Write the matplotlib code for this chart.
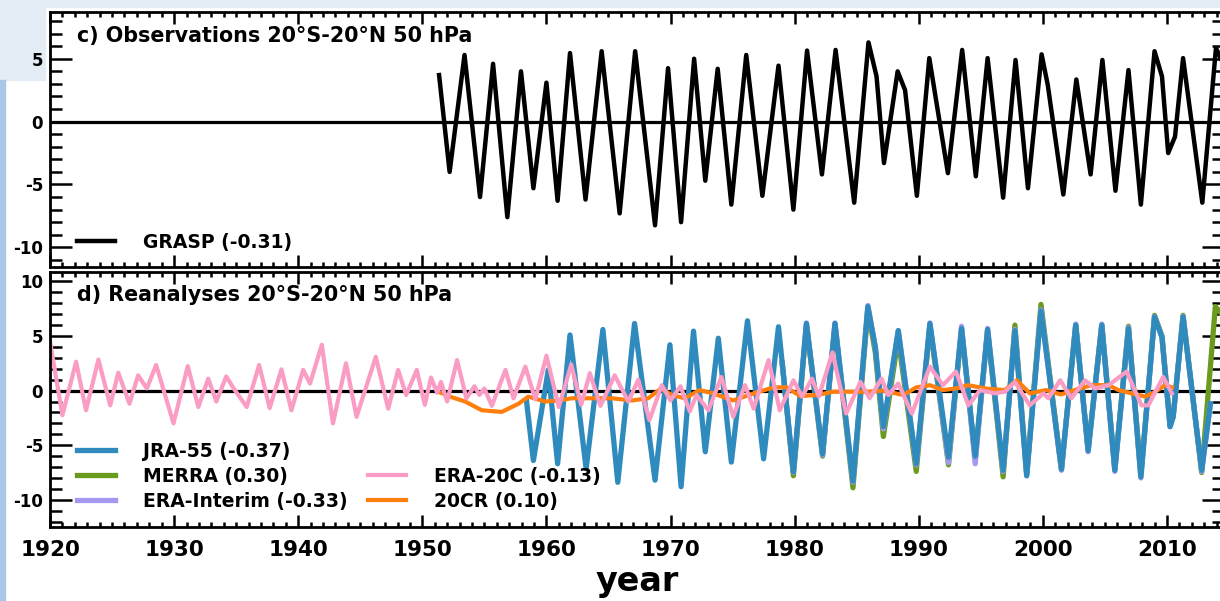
#!/usr/bin/env python3
"""
QBO 50 hPa 纬向风距平：观测 (GRASP) 与再分析资料对比图
"""

import matplotlib
matplotlib.use('Agg')
import matplotlib.pyplot as plt
from matplotlib.patches import Rectangle
from matplotlib.ticker import MultipleLocator

# ---------- 数据（从原图读取的极值点） ----------
GRASP_YEARS = [1951.35, 1952.2, 1953.4, 1954.65, 1955.7, 1956.85, 1957.95, 1958.95, 1960.0, 1960.9,
               1961.9, 1963.15, 1964.45, 1965.9, 1967.15, 1968.75, 1969.8, 1970.85, 1971.9, 1972.8,
               1973.8, 1974.9, 1976.1, 1977.4, 1978.7, 1979.9, 1981.0, 1982.2, 1983.3, 1984.8,
               1985.95, 1986.6, 1987.2, 1988.3, 1988.9, 1989.85, 1990.85, 1992.35, 1993.5, 1994.6,
               1995.55, 1996.8, 1997.8, 1998.8, 1999.9, 2000.4, 2001.65, 2002.7, 2003.85, 2004.8,
               2005.85, 2006.9, 2007.9, 2009.0, 2009.6, 2010.1, 2010.65, 2011.3, 2012.85, 2013.95,
               2014.6]
GRASP_VALS = [3.7, -4.0, 5.3, -6.0, 4.6, -7.6, 4.0, -5.3, 3.1, -6.3,
              5.45, -6.2, 5.6, -7.3, 5.6, -8.25, 4.25, -8.0, 5.0, -4.7,
              4.2, -6.6, 5.3, -5.9, 4.45, -7.0, 5.65, -4.2, 5.7, -6.45,
              6.3, 3.6, -3.3, 4.0, 2.5, -5.9, 5.05, -4.1, 5.7, -4.35,
              5.05, -6.05, 4.9, -5.3, 5.35, 2.9, -5.8, 3.35, -4.2, 4.9,
              -5.5, 4.1, -6.6, 5.6, 3.6, -2.5, -1.2, 5.05, -6.45, 5.85,
              4.5]

JRA_YEARS = [1958.4, 1958.95, 1960.15, 1960.9, 1961.9, 1963.2, 1964.55, 1965.75, 1967.1, 1968.75,
             1969.95, 1970.85, 1971.85, 1972.8, 1973.85, 1974.9, 1976.2, 1977.5, 1978.7, 1979.9,
             1980.95, 1982.25, 1983.25, 1984.7, 1985.9, 1986.5, 1987.15, 1988.35, 1989.8, 1990.9,
             1992.4, 1993.45, 1994.55, 1995.55, 1996.8, 1997.75, 1998.7, 1999.85, 2001.5, 2002.65,
             2003.65, 2004.75, 2005.8, 2006.9, 2007.9, 2009.0, 2009.6, 2010.25, 2010.5, 2011.3,
             2012.8, 2013.5]
JRA_VALS = [-1.0, -6.4, 1.9, -6.7, 5.1, -7.15, 5.6, -8.4, 6.15, -8.2,
            4.2, -8.8, 5.45, -5.6, 4.8, -6.55, 6.4, -6.25, 5.85, -7.45,
            6.15, -5.8, 6.15, -8.3, 7.7, 4.0, -3.3, 5.5, -6.7, 6.15,
            -6.1, 5.7, -6.0, 5.6, -7.3, 5.5, -7.8, 7.3, -7.2, 6.0,
            -5.5, 6.0, -7.3, 5.7, -7.9, 6.75, 4.9, -3.3, -2.4, 6.75,
            -7.3, -1.2]

MERRA_YEARS = [1979.0, 1979.9, 1980.95, 1982.25, 1983.25, 1984.7, 1985.9, 1986.5, 1987.15, 1988.35,
               1989.8, 1990.9, 1992.4, 1993.45, 1994.55, 1995.55, 1996.8, 1997.75, 1998.7, 1999.85,
               2001.5, 2002.65, 2003.65, 2004.75, 2005.8, 2006.9, 2007.9, 2009.0, 2009.6, 2010.25,
               2010.5, 2011.3, 2012.8, 2013.9, 2014.6]
MERRA_VALS = [2.5, -7.8, 6.0, -6.0, 6.0, -8.9, 7.4, 3.5, -4.2, 4.8,
              -7.4, 6.0, -6.8, 5.6, -6.3, 5.5, -7.9, 6.0, -7.6, 7.9,
              -7.2, 6.0, -5.4, 6.0, -7.2, 5.9, -7.7, 6.9, 5.0, -3.0,
              -2.4, 6.9, -7.5, 7.7, 6.8]

ERAI_YEARS = [1979.0, 1979.9, 1980.95, 1982.25, 1983.25, 1984.7, 1985.9, 1986.5, 1987.15, 1988.35,
              1989.8, 1990.9, 1992.4, 1993.45, 1994.55, 1995.55, 1996.8, 1997.75, 1998.7, 1999.85,
              2001.5, 2002.65, 2003.65, 2004.75, 2005.8, 2006.9, 2007.9, 2009.0, 2009.6, 2010.25,
              2010.5, 2011.3, 2012.8, 2013.5]
ERAI_VALS = [2.5, -7.5, 6.2, -5.9, 6.2, -8.4, 7.8, 4.0, -3.5, 5.5,
             -6.8, 6.2, -6.6, 5.9, -6.7, 5.7, -7.4, 5.6, -7.8, 7.4,
             -7.3, 6.1, -5.6, 6.1, -7.4, 5.8, -8.0, 6.8, 4.9, -3.3,
             -2.4, 6.8, -7.4, -1.2]

ERA20C_YEARS = [1920.0, 1921.0, 1922.1, 1922.9, 1923.9, 1924.85, 1925.5, 1926.4, 1927.1, 1927.8,
                1928.55, 1929.95, 1931.1, 1931.95, 1932.75, 1933.4, 1934.2, 1934.8, 1935.85, 1936.85,
                1937.7, 1938.65, 1939.45, 1940.4, 1940.95, 1941.9, 1942.8, 1943.85, 1944.7, 1946.25,
                1947.25, 1948.05, 1948.7, 1949.55, 1950.2, 1950.7, 1951.2, 1951.5, 1952.0, 1952.8,
                1953.55, 1954.2, 1954.6, 1955.0, 1955.6, 1956.7, 1957.35, 1958.3, 1959.1, 1960.0,
                1961.0, 1962.0, 1962.8, 1963.5, 1964.35, 1965.5, 1966.6, 1967.4, 1968.3, 1969.3,
                1970.0, 1970.8, 1971.55, 1972.1, 1973.05, 1974.1, 1975.05, 1976.0, 1976.7, 1977.9,
                1978.8, 1979.9, 1980.6, 1981.4, 1981.95, 1983.05, 1984.15, 1985.3, 1986.05, 1987.0,
                1987.55, 1988.35, 1989.45, 1990.9, 1991.95, 1993.0, 1994.0, 1994.95, 1996.15, 1996.95,
                1997.75, 1998.95, 2000.05, 2000.45, 2001.4, 2002.3, 2003.4, 2004.2, 2005.3, 2006.75,
                2007.95, 2008.5, 2009.7, 2010.4]
ERA20C_VALS = [4.5, -2.25, 2.65, -1.8, 2.85, -1.35, 1.65, -1.2, 1.4, 0.2,
               2.35, -3.0, 2.25, -1.5, 1.1, -1.0, 1.3, 0.2, -1.5, 2.35,
               -1.6, 1.95, -1.8, 1.9, 0.65, 4.2, -3.0, 2.5, -2.4, 3.1,
               -1.65, 1.9, -0.4, 1.9, -1.3, 1.2, -0.2, 0.8, -1.0, 2.8,
               -0.7, 0.4, -0.4, 0.2, -1.4, 1.9, -0.7, 2.2, -0.8, 3.2,
               -1.5, 2.4, -1.3, 1.6, -1.4, 1.4, -1.0, 1.0, -2.7, 0.5,
               -0.9, 0.4, -1.9, -0.4, -1.8, 1.25, -2.4, 0.5, -1.65, 2.8,
               -1.8, 0.95, -0.55, 1.1, -0.55, 3.5, -2.1, 0.8, -0.7, 1.1,
               -0.4, 0.65, -2.1, 2.2, 0.5, 1.75, -1.35, 0.05, -0.25, -0.1,
               0.8, -1.35, -0.25, -0.7, 0.95, -0.7, 0.95, 0.2, 0.5, 1.75,
               -1.35, -1.35, 1.25, -0.25]

CR20_YEARS = [1951.3, 1952.1, 1953.45, 1954.8, 1956.4, 1957.75, 1958.55, 1959.9, 1960.95, 1962.05,
              1963.65, 1965.25, 1966.9, 1968.2, 1969.25, 1970.1, 1971.15, 1972.35, 1973.4, 1975.05,
              1976.7, 1978.3, 1979.35, 1980.45, 1981.8, 1983.1, 1984.45, 1985.8, 1987.1, 1988.75,
              1989.8, 1990.9, 1991.95, 1993.0, 1994.0, 1995.35, 1996.95, 1997.9, 1998.95, 2000.25,
              2001.45, 2002.55, 2003.9, 2005.3, 2006.1, 2007.15, 2008.25, 2009.05, 2009.85, 2010.4]
CR20_VALS = [-0.1, -0.5, -1.0, -1.8, -1.95, -1.2, -0.55, -1.0, -0.9, -0.7,
             -0.7, -0.7, -0.9, -0.7, 0.2, -0.4, -0.7, 0.05, -0.25, -0.9,
             -0.25, 0.3, 0.3, -0.5, -0.4, -0.1, -0.1, -0.1, 0.0, -0.4,
             0.3, 0.5, 0.05, 0.2, 0.5, 0.2, 0.05, 0.95, -0.25, 0.05,
             -0.35, 0.05, 0.5, 0.5, 0.05, -0.25, -0.55, -0.1, 0.5, 0.3]

X_MAJOR_TICKS = [1920, 1930, 1940, 1950, 1960, 1970, 1980, 1990, 2000, 2010]
XLIM = (1920, 2014.6)

# 颜色
C_JRA = '#2f8bbd'
C_MERRA = '#6a9a1e'
C_ERAI = '#a39af0'
C_ERA20C = '#fa9cc3'
C_20CR = '#ff7f0e'

plt.rcParams['font.family'] = ['DejaVu Sans']
plt.rcParams['font.weight'] = 'bold'
plt.rcParams['axes.unicode_minus'] = False


def style_axis(ax, ylim):
    """统一设置坐标轴、刻度样式"""
    ax.set_xlim(*XLIM)
    ax.set_ylim(*ylim)
    ax.set_xticks(X_MAJOR_TICKS)
    ax.xaxis.set_minor_locator(MultipleLocator(1))
    ax.yaxis.set_major_locator(MultipleLocator(5))
    ax.yaxis.set_minor_locator(MultipleLocator(1))
    ax.tick_params(axis='both', which='both', direction='in', top=True, right=True, width=1.8)
    ax.tick_params(axis='x', which='major', length=8.5)
    ax.tick_params(axis='x', which='minor', length=3.8)
    ax.tick_params(axis='y', which='major', length=16, labelsize=12, pad=5)
    ax.tick_params(axis='y', which='minor', length=8.5)
    for sp in ax.spines.values():
        sp.set_linewidth(2.0)
    ax.axhline(0, color='black', linewidth=2.3, zorder=1)


fig = plt.figure(figsize=(12.2, 6.01), dpi=100)

# 背景条（原图截图边缘）
fig.patches.append(Rectangle((0, 0.988), 1, 0.012, transform=fig.transFigure,
                             color='#e4ecf5', zorder=-5))
fig.patches.append(Rectangle((0, 0.867), 0.037, 0.121, transform=fig.transFigure,
                             color='#e4ecf5', zorder=-5))
fig.patches.append(Rectangle((0, 0), 0.004, 0.867, transform=fig.transFigure,
                             color='#a9c7e6', zorder=-5))

ax1 = fig.add_axes([0.041, 0.555, 0.9623, 0.4255])
ax2 = fig.add_axes([0.041, 0.123, 0.9623, 0.425])

# ---------- c) 观测 ----------
style_axis(ax1, (-11.6, 8.74))
ax1.tick_params(axis='x', labelbottom=False)
l_grasp, = ax1.plot(GRASP_YEARS, GRASP_VALS, color='black', linewidth=3.2,
                    solid_joinstyle='round', zorder=3)
ax1.text(0.023, 0.905, 'c) Observations 20°S-20°N 50 hPa', transform=ax1.transAxes,
         fontsize=14.9, fontweight='bold', va='center', ha='left')
ax1.legend([l_grasp], ['GRASP (-0.31)'], loc='upper left', bbox_to_anchor=(0.023, 0.135),
           frameon=False, borderpad=0, borderaxespad=0, handlelength=2.0, handletextpad=1.5,
           prop={'size': 13.5, 'weight': 'bold'})

# ---------- d) 再分析 ----------
style_axis(ax2, (-12.5, 10.9))
ax2.tick_params(axis='x', which='major', labelsize=15.5, pad=9)
l_merra, = ax2.plot(MERRA_YEARS, MERRA_VALS, color=C_MERRA, linewidth=3.8,
                    solid_joinstyle='round', zorder=2)
l_erai, = ax2.plot(ERAI_YEARS, ERAI_VALS, color=C_ERAI, linewidth=3.8,
                   solid_joinstyle='round', zorder=2.1)
l_jra, = ax2.plot(JRA_YEARS, JRA_VALS, color=C_JRA, linewidth=3.8,
                  solid_joinstyle='round', zorder=2.2)
l_20cr, = ax2.plot(CR20_YEARS, CR20_VALS, color=C_20CR, linewidth=3.0,
                   solid_joinstyle='round', zorder=2.3)
l_era20c, = ax2.plot(ERA20C_YEARS, ERA20C_VALS, color=C_ERA20C, linewidth=3.0,
                     solid_joinstyle='round', zorder=2.4)
ax2.text(0.023, 0.91, 'd) Reanalyses 20°S-20°N 50 hPa', transform=ax2.transAxes,
         fontsize=14.9, fontweight='bold', va='center', ha='left')

leg_kw = dict(frameon=False, borderpad=0, borderaxespad=0, handlelength=2.0,
              handletextpad=1.5, labelspacing=0.33, prop={'size': 13.5, 'weight': 'bold'})
leg1 = ax2.legend([l_jra, l_merra, l_erai],
                  ['JRA-55 (-0.37)', 'MERRA (0.30)', 'ERA-Interim (-0.33)'],
                  loc='upper left', bbox_to_anchor=(0.023, 0.335), **leg_kw)
ax2.add_artist(leg1)
ax2.legend([l_era20c, l_20cr], ['ERA-20C (-0.13)', '20CR (0.10)'],
           loc='upper left', bbox_to_anchor=(0.271, 0.237), **leg_kw)

ax2.set_xlabel('year', fontsize=24, fontweight='bold', labelpad=4)

plt.savefig('out.png', dpi=100)
